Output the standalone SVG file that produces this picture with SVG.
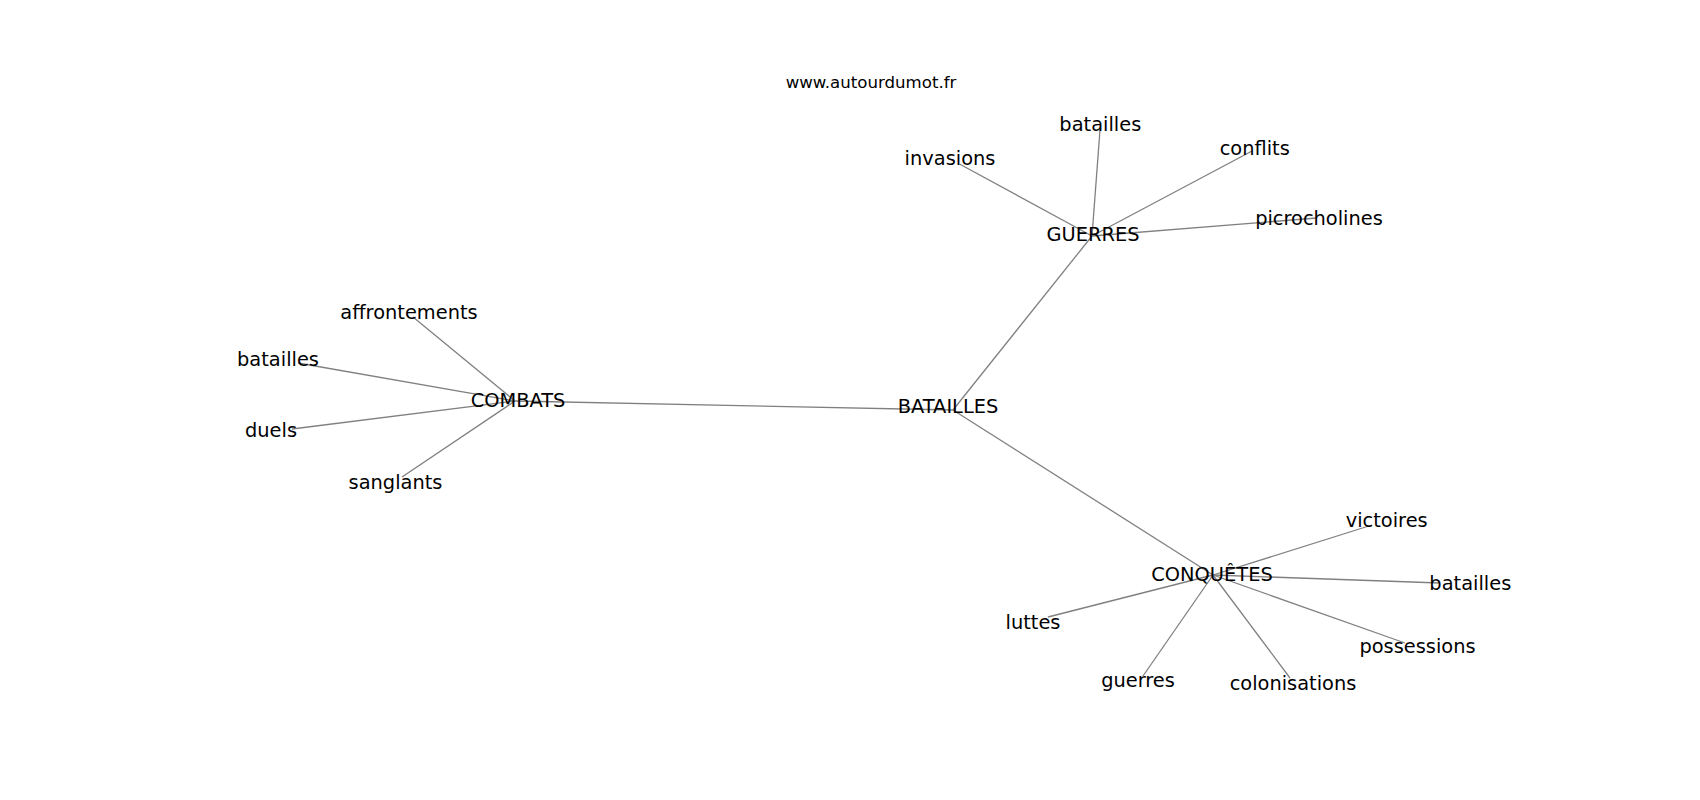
<svg xmlns="http://www.w3.org/2000/svg" width="1700" height="800" viewBox="0 0 1700 800">
<style>
  text { font-family: "DejaVu Sans", "Liberation Sans", sans-serif; fill: #000; text-anchor: middle; }
  .lbl { font-size: 19.4px; }
  .title { font-size: 16.6px; }
  .edge { stroke: #808080; stroke-width: 1.3; fill: none; }
</style>
<rect width="1700" height="800" fill="#ffffff"/>
<g id="connectors">
  <line class="edge" x1="953" y1="410" x2="515" y2="401"/>
  <line class="edge" x1="953" y1="410" x2="1092" y2="236"/>
  <line class="edge" x1="953" y1="410" x2="1213" y2="575"/>
  <line class="edge" x1="1092" y1="236" x2="959.5" y2="164"/>
  <line class="edge" x1="1092" y1="236" x2="1100" y2="130"/>
  <line class="edge" x1="1092" y1="236" x2="1252" y2="151"/>
  <line class="edge" x1="1092" y1="236" x2="1317" y2="218"/>
  <line class="edge" x1="515" y1="401" x2="413" y2="317"/>
  <line class="edge" x1="515" y1="401" x2="298" y2="363"/>
  <line class="edge" x1="515" y1="401" x2="292" y2="429"/>
  <line class="edge" x1="515" y1="401" x2="402" y2="477"/>
  <line class="edge" x1="1213" y1="575" x2="1372" y2="525"/>
  <line class="edge" x1="1213" y1="575" x2="1440" y2="583"/>
  <line class="edge" x1="1213" y1="575" x2="1405" y2="643"/>
  <line class="edge" x1="1213" y1="575" x2="1290" y2="678"/>
  <line class="edge" x1="1213" y1="575" x2="1143" y2="676"/>
  <line class="edge" x1="1213" y1="575" x2="1048" y2="617"/>
</g>
<g id="title"><text class="title" x="871" y="88.3">www.autourdumot.fr</text></g>
<g id="n-batailles-center"><text class="lbl" x="948" y="413">BATAILLES</text></g>
<g id="n-guerres"><text class="lbl" x="1093" y="241">GUERRES</text></g>
<g id="n-combats"><text class="lbl" x="518" y="406.5">COMBATS</text></g>
<g id="n-conquetes"><text class="lbl" x="1212" y="581">CONQUÊTES</text></g>
<g id="n-invasions"><text class="lbl" x="950" y="164.8">invasions</text></g>
<g id="n-batailles-g"><text class="lbl" x="1100.3" y="130.5">batailles</text></g>
<g id="n-conflits"><text class="lbl" x="1254.7" y="154.5">conflits</text></g>
<g id="n-picrocholines"><text class="lbl" x="1319" y="225">picrocholines</text></g>
<g id="n-affrontements"><text class="lbl" x="409" y="318.8">affrontements</text></g>
<g id="n-batailles-c"><text class="lbl" x="278" y="366">batailles</text></g>
<g id="n-duels"><text class="lbl" x="271" y="436.5">duels</text></g>
<g id="n-sanglants"><text class="lbl" x="395.5" y="488.8">sanglants</text></g>
<g id="n-victoires"><text class="lbl" x="1386.7" y="526.5">victoires</text></g>
<g id="n-batailles-q"><text class="lbl" x="1470.3" y="589.5">batailles</text></g>
<g id="n-possessions"><text class="lbl" x="1417.5" y="653">possessions</text></g>
<g id="n-colonisations"><text class="lbl" x="1293" y="689.5">colonisations</text></g>
<g id="n-guerres-q"><text class="lbl" x="1138" y="687">guerres</text></g>
<g id="n-luttes"><text class="lbl" x="1033" y="628.5">luttes</text></g>
</svg>
